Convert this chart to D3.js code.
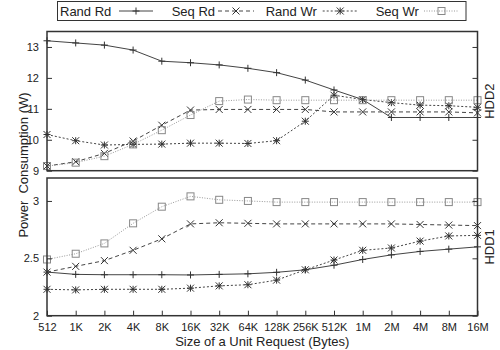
<!DOCTYPE html>
<html><head><meta charset="utf-8">
<script src="https://cdn.jsdelivr.net/npm/d3@7"></script>
<style>body{margin:0;background:#fff}svg{display:block}text{font-family:"Liberation Sans",Arial,sans-serif;fill:#222}</style>
</head><body><svg id="c" width="500" height="350"></svg>
<script>
const categories = ["512","1K","2K","4K","8K","16K","32K","64K","128K","256K","512K","1M","2M","4M","8M","16M"];
const seriesNames = ["Rand Rd","Seq Rd","Rand Wr","Seq Wr"];
// HDD2 (top panel)
const hdd2RandRd = [13.2,13.13,13.06,12.9,12.54,12.49,12.42,12.31,12.17,11.93,11.61,11.3,10.72,10.72,10.72,10.72];
const hdd2SeqRd  = [9.15,9.29,9.56,9.96,10.47,10.96,10.98,10.98,10.98,10.98,10.9,10.9,10.9,10.9,10.9,10.87];
const hdd2RandWr = [10.17,9.97,9.83,9.85,9.86,9.89,9.89,9.88,9.97,10.6,11.44,11.3,11.2,11.12,11.1,11.05];
const hdd2SeqWr  = [9.15,9.26,9.47,9.85,10.31,10.8,11.25,11.3,11.28,11.28,11.28,11.28,11.28,11.28,11.28,11.28];
// HDD1 (bottom panel)
const hdd1RandRd = [2.38,2.36,2.357,2.357,2.357,2.355,2.36,2.365,2.378,2.40,2.44,2.49,2.53,2.56,2.58,2.60];
const hdd1SeqRd  = [2.38,2.43,2.48,2.57,2.67,2.8,2.81,2.805,2.8,2.8,2.8,2.8,2.8,2.795,2.79,2.785];
const hdd1RandWr = [2.23,2.225,2.23,2.23,2.23,2.24,2.26,2.27,2.31,2.40,2.485,2.57,2.59,2.65,2.695,2.70];
const hdd1SeqWr  = [2.49,2.54,2.63,2.805,2.95,3.04,3.01,3.0,2.99,2.99,2.99,2.99,2.99,2.99,2.99,2.99];
const hdd2Ticks = [9,10,11,12,13];
const hdd1Ticks = [2,2.5,3];

const svg = d3.select("#c");
const L = 47, R = 477.5;
const x = d3.scalePoint().domain(categories).range([L, R]);

const styles = [
  {dash:null, color:"#444", marker:"plus"},
  {dash:"4,3", color:"#444", marker:"cross"},
  {dash:"2,2", color:"#444", marker:"star"},
  {dash:"1,1.5", color:"#999", marker:"square"}
];

function marker(g, type, cx, cy, color){
  const s = 3.5;
  if(type==="plus"||type==="star"){
    g.append("line").attr("x1",cx-s).attr("x2",cx+s).attr("y1",cy).attr("y2",cy).attr("stroke",color);
    g.append("line").attr("x1",cx).attr("x2",cx).attr("y1",cy-s).attr("y2",cy+s).attr("stroke",color);
  }
  if(type==="cross"||type==="star"){
    g.append("line").attr("x1",cx-s).attr("x2",cx+s).attr("y1",cy-s).attr("y2",cy+s).attr("stroke",color);
    g.append("line").attr("x1",cx-s).attr("x2",cx+s).attr("y1",cy+s).attr("y2",cy-s).attr("stroke",color);
  }
  if(type==="square"){
    g.append("rect").attr("x",cx-3.5).attr("y",cy-3.5).attr("width",7).attr("height",7).attr("fill","none").attr("stroke",color);
  }
}

function panel(top, bottom, domain, ticks, series, label, xTicks){
  const y = d3.scaleLinear().domain(domain).range([bottom, top]);
  const g = svg.append("g");
  const clip = "clip"+label;
  svg.append("clipPath").attr("id",clip).append("rect").attr("x",L-6).attr("y",top-6).attr("width",R-L+12).attr("height",bottom-top+12);
  const pg = g.append("g").attr("clip-path","url(#"+clip+")");
  series.forEach((vals,k)=>{
    const st = styles[k];
    const line = d3.line().x((d,i)=>x(categories[i])).y(d=>y(d));
    pg.append("path").attr("d",line(vals)).attr("fill","none").attr("stroke",st.color)
      .attr("stroke-width",1).attr("stroke-dasharray",st.dash);
    vals.forEach((v,i)=>marker(pg, st.marker, x(categories[i]), y(v), k===3?"#888":"#333"));
  });
  // left axis
  const ya = d3.axisLeft(y).tickValues(ticks).tickSize(-5).tickPadding(8).tickFormat(d3.format("~g"));
  const ax = g.append("g").attr("transform",`translate(${L},0)`).call(ya);
  ax.select(".domain").remove();
  ax.selectAll(".tick line").attr("stroke","#333");
  ax.selectAll("text").attr("font-size",11).attr("fill","#222").style("font-family","Liberation Sans, Arial, sans-serif");
  const yr = d3.axisRight(y).tickValues(ticks).tickSize(-5).tickFormat("");
  const axr = g.append("g").attr("transform",`translate(${R},0)`).call(yr);
  axr.select(".domain").remove();
  axr.selectAll(".tick line").attr("stroke","#333");
  if(xTicks){
    const xa = d3.axisBottom(x).tickSize(-5).tickPadding(8);
    const axb = g.append("g").attr("transform",`translate(0,${bottom})`).call(xa);
    axb.select(".domain").remove();
    axb.selectAll(".tick line").attr("stroke","#333");
    axb.selectAll("text").attr("font-size",11).attr("fill","#222").style("font-family","Liberation Sans, Arial, sans-serif");
  }
  g.append("rect").attr("x",L).attr("y",top).attr("width",R-L).attr("height",bottom-top)
    .attr("fill","none").attr("stroke","#333").attr("stroke-width",1.5);
  g.append("text").attr("transform",`translate(494,${(top+bottom)/2}) rotate(-90)`)
    .attr("text-anchor","middle").attr("font-size",13).text(label);
}

panel(31.5, 170.7, [9,13.5], hdd2Ticks, [hdd2RandRd,hdd2SeqRd,hdd2RandWr,hdd2SeqWr], "HDD2", false);
panel(178, 315.7, [2,3.2], hdd1Ticks, [hdd1RandRd,hdd1SeqRd,hdd1RandWr,hdd1SeqWr], "HDD1", true);

// axis titles
svg.append("text").attr("x",(L+R)/2).attr("y",346).attr("text-anchor","middle").attr("font-size",13)
  .text("Size of a Unit Request (Bytes)");
svg.append("text").attr("transform","translate(28,165) rotate(-90)").attr("text-anchor","middle").attr("font-size",13)
  .style("white-space","pre").text("Power  Consumption (W)");

// legend
const lg = svg.append("g");
lg.append("rect").attr("x",57.5).attr("y",1.5).attr("width",408.5).attr("height",19).attr("fill","#fff").attr("stroke","#333").attr("stroke-width",1);
const legX = [{t:60, s:119, e:153},{t:171.7, s:218, e:254},{t:265.7, s:322.7, e:357.7},{t:375.7, s:424, e:459}];
seriesNames.forEach((n,k)=>{
  const p = legX[k], st = styles[k];
  lg.append("text").attr("x",p.t).attr("y",15.5).attr("font-size",13).text(n);
  lg.append("line").attr("x1",p.s).attr("x2",p.e).attr("y1",11).attr("y2",11).attr("stroke",st.color).attr("stroke-dasharray",st.dash);
  marker(lg, st.marker, (p.s+p.e)/2, 11, k===3?"#888":"#333");
});
</script></body></html>
